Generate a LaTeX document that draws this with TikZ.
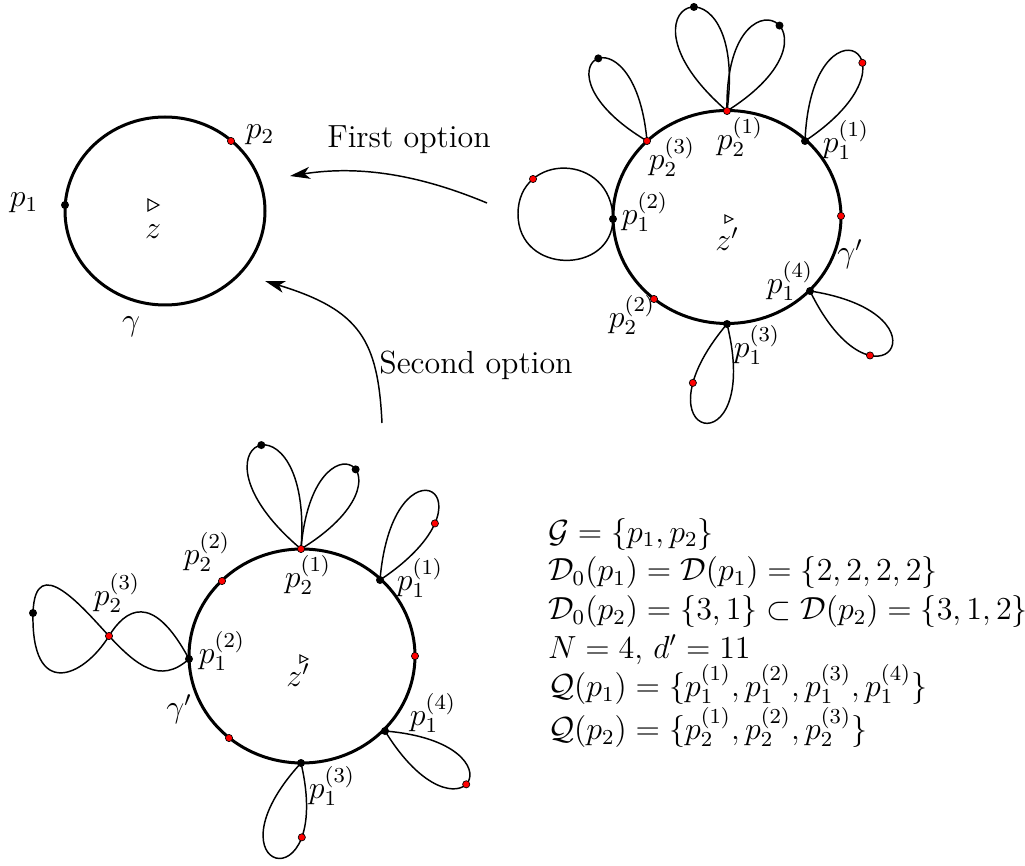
\documentclass[tikz,border=0pt]{standalone}
\usetikzlibrary{arrows.meta}

\tikzset{every picture/.style={line width=0.75pt}}
\tikzset{
  rim/.style={line width=2.25},
  petal/.style={line width=1.1},
  arr/.style={line width=1.1, -{Stealth[length=15pt,width=9pt,inset=4pt]}},
  reddot/.style={fill={rgb, 255:red, 255; green, 0; blue, 0}, draw=black, line width=0.5},
  blackdot/.style={fill=black},
  tri/.style={line width=0.8, line join=miter},
  lbl/.style={font=\fontsize{12}{14.5}\selectfont, scale=2.0, inner sep=0},
}

\begin{document}
\begin{tikzpicture}[x=0.75pt,y=0.75pt,yscale=-1,xscale=1]
\useasboundingbox (0,0) rectangle (1025,866);

%Centres and points on the rims
\coordinate (c1) at (165,211);
\coordinate (c2) at (727,217);
\coordinate (c3) at (302,656);
\coordinate (p1) at (65,205);
\coordinate (p2) at (231,141);
\coordinate (q23) at (647,141);
\coordinate (q21) at (727,111);
\coordinate (q11) at (805,141);
\coordinate (q12) at (613,219);
\coordinate (r2) at (841,216);
\coordinate (q14) at (810,291);
\coordinate (q13) at (727,324);
\coordinate (q22) at (654,299);
\coordinate (s21) at (301,549);
\coordinate (s11) at (380,580);
\coordinate (s22) at (222,581);
\coordinate (s12) at (189,659);
\coordinate (r3) at (415,656);
\coordinate (s14) at (385,731);
\coordinate (s13) at (301,763);
\coordinate (r3b) at (229,738);
\coordinate (r5) at (533,179);
\coordinate (lf5) at (518,214);
\coordinate (x3) at (109,636);
\coordinate (b3) at (33,613);
%Arrow ends
\coordinate (a1s) at (487,203);
\coordinate (a1e) at (290,176);
\coordinate (a2s) at (382,423);
\coordinate (a2e) at (265,281);

%Ellipses
\draw [rim] (c1) ellipse (100 and 94);
\draw [rim] (c2) ellipse (114 and 106.5);
\draw [rim] (c3) ellipse (113 and 107);

%Curve Lines (top right)
\draw [petal] (q23) .. controls (634,-2) and (523,67) .. (q23) coordinate[pos=0.47] (t23);
\draw [petal] (q21) .. controls (749.5,-54.5) and (600.5,1.9) .. (q21) coordinate[pos=0.45] (t21a);
\draw [petal] (q21) .. controls (858,28.4) and (724,-43.8) .. (q21) coordinate[pos=0.45] (t21b);
\draw [petal] (q11) .. controls (932,56.2) and (811.4,-11.6) .. (q11) coordinate[pos=0.38] (t11);
\draw [petal] (q12) .. controls (612,152) and (518,152) .. (lf5) .. controls (518,275) and (612,275) .. (q12);
\draw [petal] (q14) .. controls (875.6,425.4) and (957.8,314) .. (q14) coordinate[pos=0.32] (r6);
\draw [petal] (q13) .. controls (763.7,471.6) and (628.9,440.4) .. (q13) coordinate[pos=0.8] (r7);

%Curve Lines (bottom)
\draw [petal] (s12) .. controls (152,590) and (125,610) .. (x3) .. controls (83,678) and (31,700) .. (b3)
  .. controls (35,550) and (84,609) .. (x3) .. controls (136,665) and (160,685) .. (s12);
\draw [petal] (s21) .. controls (313.9,382.4) and (173.5,441) .. (s21) coordinate[pos=0.47] (t3a);
\draw [petal] (s21) .. controls (425,472.7) and (313,403.9) .. (s21) coordinate[pos=0.45] (t3b);
\draw [petal] (s11) .. controls (505.9,496.1) and (392.7,429.3) .. (s11) coordinate[pos=0.25] (r3c);
\draw [petal] (s14) .. controls (461.3,855) and (530.1,743) .. (s14) coordinate[pos=0.47] (r3d);
\draw [petal] (s13) .. controls (334.6,907.3) and (200.8,872.1) .. (s13) coordinate[pos=0.24] (r3e);

%Arrows
\draw [arr] (a1s) .. controls (420,175) and (360,165) .. (a1e);
\draw [arr] (a2s) .. controls (378,340) and (360,310) .. (a2e);

%Dots
\foreach \pt in {p1,q11,q12,q14,q13,s12,s11,s14,s13,t23,t21a,t21b,b3,t3a,t3b}
  \fill [blackdot] (\pt) circle (4);
\foreach \pt in {p2,q23,q21,r2,q22,r5,r6,r7,s21,s22,r3,r3b,x3,r3c,r3d,r3e,t11}
  \filldraw [reddot] (\pt) circle (3.6);

%Markers
\draw [tri] (148,199) -- (159,205) -- (148,211) -- cycle;
\draw [tri] (725,215) -- (733,219) -- (725,223) -- cycle;
\draw [tri] (300,655) -- (308,659) -- (300,663) -- cycle;

%Labels (left)
\node [lbl] (lp1) at (24,203) {$p_1$};
\node [lbl] (lp2) at (260,135) {$p_2$};
\node [lbl] (lz) at (153,232) {$z$};
\node [lbl] (lgam) at (131,327) {$\gamma$};

%Labels (top right)
\node [lbl] (lq23) at (672,157) {$p_2^{(3)}$};
\node [lbl] (lq21) at (740,137) {$p_2^{(1)}$};
\node [lbl] (lq11) at (846,140) {$p_1^{(1)}$};
\node [lbl] (lq12) at (645,212) {$p_1^{(2)}$};
\node [lbl] (lz2) at (727,239) {$z'$};
\node [lbl] (lgam2) at (850,254) {$\gamma'$};
\node [lbl] (lq14) at (790,281) {$p_1^{(4)}$};
\node [lbl] (lq22) at (632,315) {$p_2^{(2)}$};
\node [lbl] (lq13) at (757,345) {$p_1^{(3)}$};

%Labels (bottom)
\node [lbl] (ls22) at (207,552) {$p_2^{(2)}$};
\node [lbl] (lx3) at (117,593) {$p_2^{(3)}$};
\node [lbl] (ls12) at (222,651) {$p_1^{(2)}$};
\node [lbl] (ls21) at (308,575) {$p_2^{(1)}$};
\node [lbl] (ls11) at (420,578) {$p_1^{(1)}$};
\node [lbl] (lz3) at (298,675) {$z'$};
\node [lbl] (lgam3) at (179,709) {$\gamma'$};
\node [lbl] (ls14) at (433,713) {$p_1^{(4)}$};
\node [lbl] (ls13) at (332,786) {$p_1^{(3)}$};

%Arrow texts
\node [lbl] (first) at (409,140) {First option};
\node [lbl] (second) at (476,365) {Second option};

%Data
\node [lbl, align=left, anchor=north west] (info) at (547,517) {$\mathcal{G}=\{p_1,p_2\}$\\
$\mathcal{D}_0(p_1)=\mathcal{D}(p_1)=\{2,2,2,2\}$\\
$\mathcal{D}_0(p_2)=\{3,1\}\subset\mathcal{D}(p_2)=\{3,1,2\}$\\
$N=4$, $d'=11$\\
$\mathcal{Q}(p_1)=\{p_1^{(1)},p_1^{(2)},p_1^{(3)},p_1^{(4)}\}$\\
$\mathcal{Q}(p_2)=\{p_2^{(1)},p_2^{(2)},p_2^{(3)}\}$};

\end{tikzpicture}
\end{document}
